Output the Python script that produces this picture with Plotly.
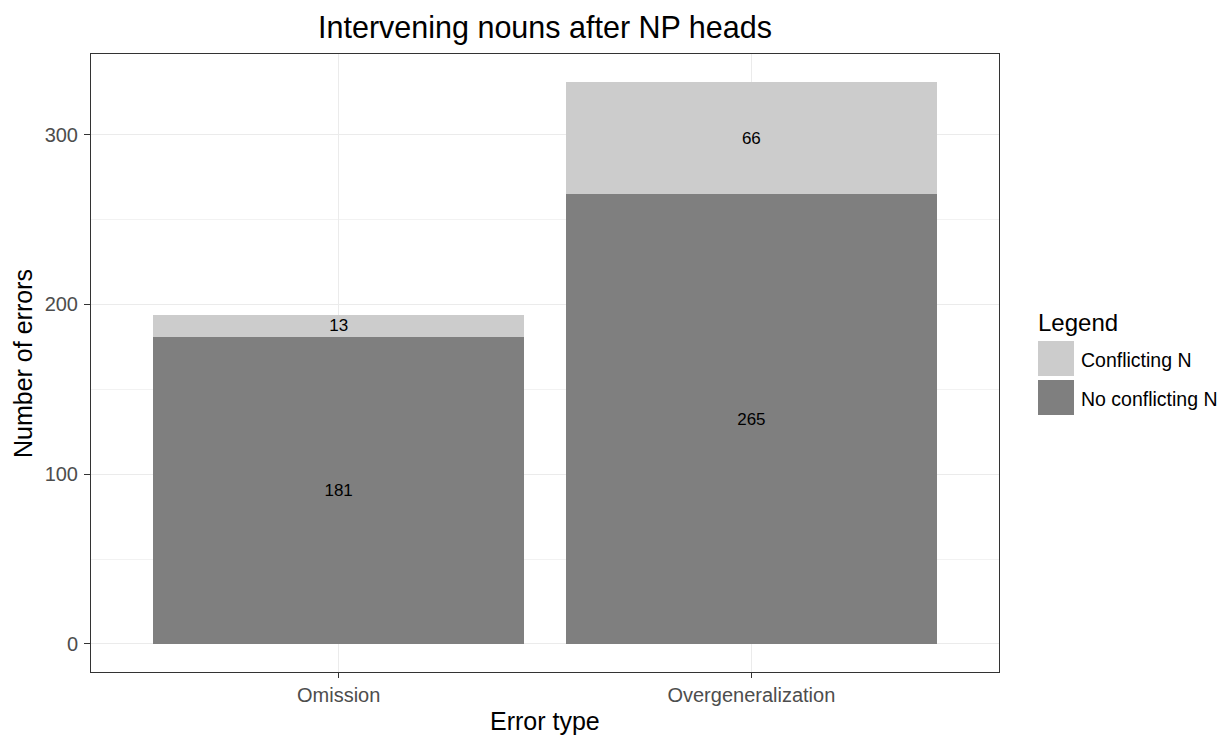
import plotly.graph_objects as go

# Data
error_types = ["Omission", "Overgeneralization"]
no_conflicting = [181, 265]
conflicting = [13, 66]
series_names = ["Conflicting N", "No conflicting N"]
series_colors = ["#CCCCCC", "#7F7F7F"]

font_family = "Liberation Sans, Arial, sans-serif"

# page is drawn with an 8px body margin, so the figure is shrunk by that much
OFF = 8
PLOT_L, PLOT_R, PLOT_T, PLOT_B = 91, 999, 54, 672
PW, PH = PLOT_R - PLOT_L, PLOT_B - PLOT_T


def px_x(x):
    return (x - PLOT_L) / PW


def px_y(y):
    return (PLOT_B - y) / PH


fig = go.Figure()

# Bottom stack: no conflicting N
fig.add_trace(go.Bar(
    x=error_types, y=no_conflicting, name=series_names[1],
    marker=dict(color=series_colors[1], line=dict(width=0)),
    text=no_conflicting, textposition="inside", insidetextanchor="middle",
    constraintext="none", textangle=0,
    textfont=dict(color="black", size=17, family=font_family),
    width=0.9, showlegend=False,
))
# Top stack: conflicting N
fig.add_trace(go.Bar(
    x=error_types, y=conflicting, name=series_names[0],
    marker=dict(color=series_colors[0], line=dict(width=0)),
    text=conflicting, textposition="inside", insidetextanchor="middle",
    constraintext="none", textangle=0,
    textfont=dict(color="black", size=17, family=font_family),
    width=0.9, showlegend=False,
))

# Axis titles placed as annotations
annotations = [
    dict(text="Error type", xref="paper", yref="paper", x=px_x(545), y=px_y(721),
         xanchor="center", yanchor="middle", showarrow=False,
         font=dict(size=25, color="black", family=font_family)),
    dict(text="Number of errors", xref="paper", yref="paper", x=px_x(23), y=px_y(364),
         xanchor="center", yanchor="middle", showarrow=False, textangle=-90,
         font=dict(size=25, color="black", family=font_family)),
]

# Manual ggplot-like legend
shapes = []
annotations.append(dict(
    text="Legend", xref="paper", yref="paper", x=px_x(1036), y=px_y(322),
    xanchor="left", yanchor="middle", showarrow=False,
    font=dict(size=24, color="black", family=font_family),
))
key_tops = [341, 380]
for top, name, col in zip(key_tops, series_names, series_colors):
    shapes.append(dict(type="rect", xref="paper", yref="paper",
                       x0=px_x(1038), x1=px_x(1074), y0=px_y(top + 35), y1=px_y(top),
                       fillcolor=col, line=dict(width=0), layer="above"))
    annotations.append(dict(
        text=name, xref="paper", yref="paper",
        x=px_x(1079), y=px_y(top + 19),
        xanchor="left", yanchor="middle", showarrow=False,
        font=dict(size=19.5, color="black", family=font_family),
    ))

W, H = 1229 - OFF, 737 - OFF
fig.update_layout(
    barmode="stack",
    width=W, height=H,
    margin=dict(l=PLOT_L - OFF, r=W - (PLOT_R - OFF), t=PLOT_T - OFF, b=H - (PLOT_B - OFF),
                autoexpand=False),
    paper_bgcolor="white", plot_bgcolor="white",
    font=dict(family=font_family),
    title=dict(text="Intervening nouns after NP heads",
               x=((PLOT_L + PLOT_R) / 2 - OFF) / W, xanchor="center",
               y=1 - (27 - OFF) / H, yanchor="middle",
               font=dict(size=30.5, color="black", family=font_family)),
    shapes=shapes,
    annotations=annotations,
)

fig.update_xaxes(
    automargin=False,
    range=[-0.6, 1.6],
    showgrid=True, gridcolor="#EBEBEB", gridwidth=1,
    showline=True, linecolor="#333333", linewidth=1, mirror=True,
    ticks="outside", ticklen=5, tickcolor="#333333",
    ticklabelstandoff=0,
    tickfont=dict(size=20, color="#4D4D4D"),
    zeroline=False,
)
fig.update_yaxes(
    automargin=False,
    range=[-16.55, 347.55],
    tickvals=[0, 100, 200, 300],
    showgrid=True, gridcolor="#EBEBEB", gridwidth=1,
    minor=dict(tickvals=[50, 150, 250], showgrid=True, gridcolor="#F2F2F2", gridwidth=1, ticks=""),
    showline=True, linecolor="#333333", linewidth=1, mirror=True,
    ticks="outside", ticklen=6, tickcolor="#333333",
    ticklabelstandoff=2,
    tickfont=dict(size=20, color="#4D4D4D"),
    zeroline=False,
)

fig.write_html("out.html")
